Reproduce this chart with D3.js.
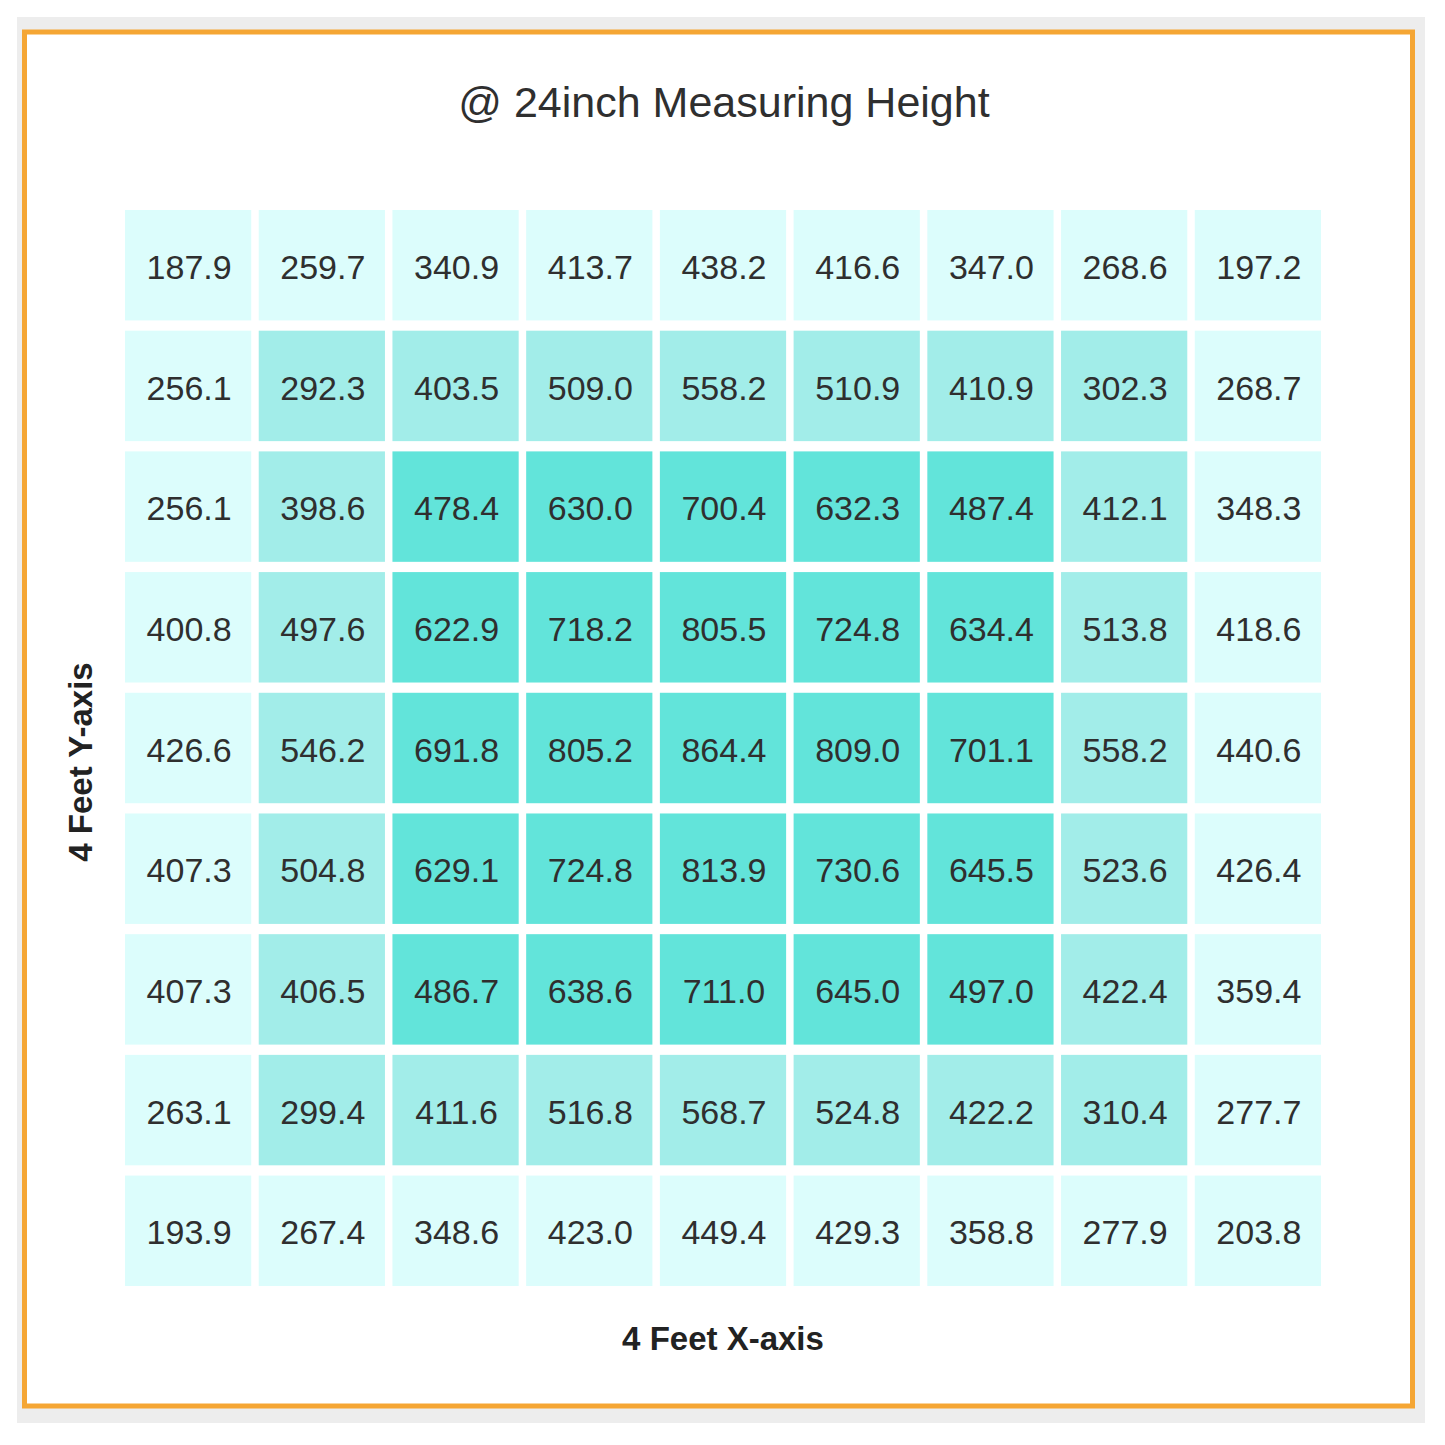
<!DOCTYPE html>
<html>
<head>
<meta charset="utf-8">
<script src="https://cdn.jsdelivr.net/npm/d3@7"></script>
<style>
  body { margin: 0; background: #fff; }
  text { font-family: "Liberation Sans", Arial, sans-serif; }
</style>
</head>
<body>
<div id="chart"></div>
<script>

// Readings, row by row (top to bottom), left to right.
const values = [
	[187.9, 259.7, 340.9, 413.7, 438.2, 416.6, 347.0, 268.6, 197.2],
	[256.1, 292.3, 403.5, 509.0, 558.2, 510.9, 410.9, 302.3, 268.7],
	[256.1, 398.6, 478.4, 630.0, 700.4, 632.3, 487.4, 412.1, 348.3],
	[400.8, 497.6, 622.9, 718.2, 805.5, 724.8, 634.4, 513.8, 418.6],
	[426.6, 546.2, 691.8, 805.2, 864.4, 809.0, 701.1, 558.2, 440.6],
	[407.3, 504.8, 629.1, 724.8, 813.9, 730.6, 645.5, 523.6, 426.4],
	[407.3, 406.5, 486.7, 638.6, 711.0, 645.0, 497.0, 422.4, 359.4],
	[263.1, 299.4, 411.6, 516.8, 568.7, 524.8, 422.2, 310.4, 277.7],
	[193.9, 267.4, 348.6, 423.0, 449.4, 429.3, 358.8, 277.9, 203.8]
];

// Ring shading: outer ring, second ring, inner block.
const ringColors = ["#dcfdfc", "#a2ede9", "#62e4da"];

const title = "@ 24inch Measuring Height",
	xTitle = "4 Feet X-axis",
	yTitle = "4 Feet Y-axis";


// Dimensions.
const W = 1445, H = 1445;
let grid = { left: 125, right: 1321, top: 210, bottom: 1286 };

let svg = d3.select("#chart").append("svg")
	.attr("width", W)
	.attr("height", H);

// Frame: grey backing, white panel with orange border.
svg.append("rect")
	.attr("x", 17).attr("y", 17)
	.attr("width", 1408).attr("height", 1406)
	.attr("fill", "#ededed");
svg.append("rect")
	.attr("x", 24.5).attr("y", 32)
	.attr("width", 1388).attr("height", 1374)
	.attr("fill", "#fff")
	.attr("stroke", "#f5a634")
	.attr("stroke-width", 5);


// Scales
const cols = d3.range(values[0].length),
	rows = d3.range(values.length);

let x = d3.scaleBand()
	.domain(cols)
	.range([grid.left, grid.right])
	.paddingInner(0.056);

let y = d3.scaleBand()
	.domain(rows)
	.range([grid.top, grid.bottom])
	.paddingInner(0.085);

let color = d3.scaleThreshold()
	.domain([1, 2])
	.range(ringColors);

const nr = rows.length - 1, nc = cols.length - 1;
let cells = [];
values.forEach((row, r) => row.forEach((v, c) => {
	cells.push({ r: r, c: c, v: v, ring: Math.min(r, c, nr - r, nc - c) });
}));


// Cells
const cell = svg.append("g")
	.selectAll("g")
	.data(cells)
	.join("g")
	.attr("transform", d => "translate(" + x(d.c) + "," + y(d.r) + ")");

cell.append("rect")
	.attr("width", x.bandwidth())
	.attr("height", y.bandwidth())
	.attr("fill", d => color(d.ring));

cell.append("text")
	.attr("x", x.bandwidth() / 2 + 1)
	.attr("y", y.bandwidth() / 2)
	.attr("dy", "0.4em")
	.attr("text-anchor", "middle")
	.attr("font-size", "34px")
	.attr("fill", "#2f2f2f")
	.text(d => d3.format(".1f")(d.v));


// Titles
svg.append("text")
	.attr("x", 724).attr("y", 117)
	.attr("text-anchor", "middle")
	.attr("font-size", "43px")
	.attr("fill", "#2f2f2f")
	.text(title);

svg.append("text")
	.attr("x", (grid.left + grid.right) / 2).attr("y", 1350)
	.attr("text-anchor", "middle")
	.attr("font-size", "33px")
	.attr("font-weight", "bold")
	.attr("fill", "#222")
	.text(xTitle);

svg.append("text")
	.attr("transform", "translate(92," + ((grid.top + grid.bottom) / 2 + 14) + ") rotate(-90)")
	.attr("text-anchor", "middle")
	.attr("font-size", "33px")
	.attr("font-weight", "bold")
	.attr("fill", "#222")
	.text(yTitle);

</script>
</body>
</html>
